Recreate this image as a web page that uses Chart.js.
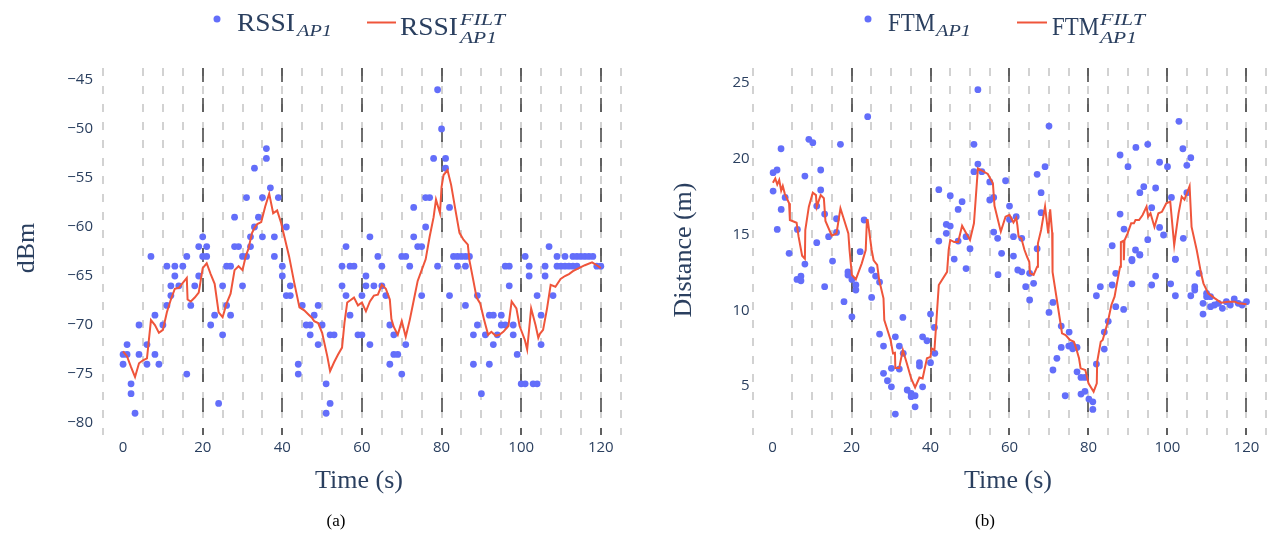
<!DOCTYPE html>
<html><head><meta charset="utf-8">
<script src="https://cdn.jsdelivr.net/npm/chart.js@4.4.0/dist/chart.umd.min.js"></script>
<style>
html,body{margin:0;padding:0;background:#fff;}
body{width:1273px;height:533px;overflow:hidden;position:relative;}
canvas{position:absolute;top:0;}
#c1{left:0;}
#c2{left:640px;}
svg{position:absolute;left:0;top:0;pointer-events:none;}
</style></head>
<body>
<canvas id="c1" width="640" height="533"></canvas>
<canvas id="c2" width="633" height="533"></canvas>
<svg width="1273" height="533" font-family="'Liberation Serif', serif">
  <!-- legend (a) -->
  <circle cx="217" cy="19" r="3.5" fill="#636efa"/>
  <text x="237" y="30.5" font-size="25" fill="#2a3f5f" textLength="58" lengthAdjust="spacingAndGlyphs">RSSI</text>
  <text x="297" y="35.5" font-size="17" font-style="italic" fill="#2a3f5f" textLength="35" lengthAdjust="spacingAndGlyphs">AP1</text>
  <line x1="367" y1="22.5" x2="396" y2="22.5" stroke="#ef553b" stroke-width="2"/>
  <text x="400" y="35" font-size="25" fill="#2a3f5f" textLength="58" lengthAdjust="spacingAndGlyphs">RSSI</text>
  <text x="460" y="25" font-size="17" font-style="italic" fill="#2a3f5f" textLength="45" lengthAdjust="spacingAndGlyphs">FILT</text>
  <text x="460" y="42.5" font-size="17" font-style="italic" fill="#2a3f5f" textLength="37" lengthAdjust="spacingAndGlyphs">AP1</text>
  <!-- legend (b) -->
  <circle cx="868" cy="19" r="3.5" fill="#636efa"/>
  <text x="888" y="30.5" font-size="25" fill="#2a3f5f" textLength="47" lengthAdjust="spacingAndGlyphs">FTM</text>
  <text x="936" y="35.5" font-size="17" font-style="italic" fill="#2a3f5f" textLength="35" lengthAdjust="spacingAndGlyphs">AP1</text>
  <line x1="1017" y1="22.5" x2="1047" y2="22.5" stroke="#ef553b" stroke-width="2"/>
  <text x="1052" y="35" font-size="25" fill="#2a3f5f" textLength="47" lengthAdjust="spacingAndGlyphs">FTM</text>
  <text x="1100" y="25" font-size="17" font-style="italic" fill="#2a3f5f" textLength="45" lengthAdjust="spacingAndGlyphs">FILT</text>
  <text x="1100" y="42.5" font-size="17" font-style="italic" fill="#2a3f5f" textLength="37" lengthAdjust="spacingAndGlyphs">AP1</text>
  <!-- axis titles -->
  <text x="359" y="488" font-size="26" fill="#2a3f5f" text-anchor="middle">Time (s)</text>
  <text x="1008" y="488" font-size="26" fill="#2a3f5f" text-anchor="middle">Time (s)</text>
  <text transform="translate(34,248) rotate(-90)" font-size="26" fill="#2a3f5f" text-anchor="middle">dBm</text>
  <text transform="translate(691,250) rotate(-90)" font-size="26" fill="#2a3f5f" text-anchor="middle">Distance (m)</text>
  <text x="336" y="526" font-size="17" fill="#000" text-anchor="middle">(a)</text>
  <text x="985" y="526" font-size="17" fill="#000" text-anchor="middle">(b)</text>
</svg>
<script>
// ---------------- data ----------------
const xTicks = [0, 20, 40, 60, 80, 100, 120];
const gridTimes = [-5,5,10,15,20,25,30,35,40,45,50,55,60,65,70,75,80,85,90,95,100,105,110,115,120,125];
const markTimes = [20, 40, 60, 80, 100, 120];
const rssiTicks = [-80, -75, -70, -65, -60, -55, -50, -45];
const ftmTicks = [5, 10, 15, 20, 25];

// RSSI raw samples [time s, dBm]
const rssiPoints = [
[0,-73],[0,-74],[1,-73],[1,-72],[2,-76],[2,-77],[3,-79],[4,-70],[4,-73],[6,-72],[6,-74],[7,-63],[8,-69],[8,-73],[9,-74],[10,-70],
[11,-64],[11,-68],[12,-66],[12,-67],[13,-64],[13,-65],[14,-66],[15,-64],[16,-63],[16,-75],[17,-68],[18,-66],[19,-65],[19,-62],[20,-63],[20,-61],
[21,-63],[21,-62],[22,-70],[23,-69],[24,-78],[25,-66],[25,-71],[26,-64],[26,-68],[27,-64],[27,-69],[28,-59],[28,-62],[29,-62],[30,-63],[30,-66],
[31,-63],[31,-57],[32,-61],[32,-62],[33,-54],[33,-60],[34,-59],[35,-57],[35,-61],[36,-53],[36,-52],[37,-56],[38,-61],[38,-63],[39,-57],[40,-64],[40,-65],
[41,-60],[41,-67],[42,-66],[42,-67],[44,-74],[44,-75],[45,-68],[46,-70],[47,-70],[47,-71],[48,-69],[49,-68],[49,-72],[50,-70],
[51,-76],[51,-79],[52,-78],[52,-71],[53,-71],[55,-64],[55,-66],[56,-67],[56,-62],[57,-64],[57,-69],[58,-64],[59,-71],[60,-71],[60,-67],
[61,-65],[61,-66],[62,-72],[62,-61],[63,-66],[64,-63],[65,-64],[65,-66],[66,-67],[67,-70],[67,-74],[68,-71],[68,-73],[69,-73],[70,-75],[70,-63],
[71,-63],[71,-72],[72,-64],[73,-61],[73,-58],[74,-62],[75,-62],[75,-67],[76,-60],[76,-57],[77,-57],[78,-53],[79,-46],[79,-64],[80,-50],
[81,-53],[81,-54],[82,-58],[82,-67],[83,-63],[84,-63],[84,-64],[85,-63],[86,-63],[86,-64],[86,-68],[87,-63],[88,-71],[88,-74],[89,-67],[89,-70],[90,-77],
[91,-71],[92,-69],[92,-74],[93,-69],[93,-72],[94,-71],[95,-69],[95,-70],[96,-70],[96,-64],[97,-64],[97,-66],[98,-70],[98,-71],[99,-73],[100,-76],
[101,-76],[101,-63],[102,-64],[102,-65],[103,-76],[104,-76],[104,-67],[105,-69],[105,-72],[106,-64],[106,-65],[107,-62],[108,-67],[109,-63],[109,-64],[110,-64],
[111,-63],[111,-64],[112,-64],[113,-63],[113,-64],[114,-63],[114,-64],[115,-63],[116,-63],[117,-63],[118,-63],[119,-64],[120,-64]
];

// RSSI filtered [time s, dBm]
const rssiFilt = [
[0,-72.7],[1,-73.2],[2,-74.3],[3,-75.3],[4,-73.9],[5,-73.6],[6,-73.4],[7,-69.5],[8,-70.0],[9,-70.8],[10,-70.5],[11,-68.7],[12,-67.4],[13,-66.3],[14,-66.2],
[15,-65.7],[16,-65.2],[16.2,-67.4],[17,-67.6],[18,-67.2],[19,-66.7],[20,-64.2],[21,-63.7],[22,-64.8],[23,-65.8],[24,-68.7],[25,-69.2],[26,-67.8],[27,-66.8],
[28,-64.4],[29,-64.0],[30,-64.4],[30.8,-63.0],[31.5,-62.2],[32.4,-60.6],[33,-60.1],[33.7,-59.7],[34.7,-59.5],[35.7,-57.9],[36.7,-56.6],[37.7,-58.6],[38.7,-58.3],
[39.7,-59.6],[40.7,-61.3],[41.7,-63.0],[43,-65.7],[44.3,-68.2],[45.5,-68.5],[46.5,-68.9],[47.5,-69.3],[48,-69.6],[49,-69.8],[50,-70.8],[51.3,-73.2],[52,-74.7],
[53,-73.8],[54,-73.0],[55,-72.3],[55.6,-69.8],[56.3,-67.7],[57,-67.5],[58,-67.2],[59,-68.0],[60,-67.7],[61,-68.6],[62,-67.6],[63,-67.0],[64,-66.9],[65,-65.9],
[66,-66.3],[67,-67.4],[67.4,-69.4],[68,-70.2],[69,-71.0],[70,-69.6],[71,-71.2],[72,-69.5],[73,-67.5],[74,-65.5],[75,-64.4],[76,-63.3],[77,-61.0],[78,-59.0],
[78.6,-57.2],[79.6,-58.6],[80,-55.9],[80.5,-54.7],[81.5,-54.2],[82.4,-55.7],[83.5,-58.3],[84.5,-60.6],[85.5,-61.3],[86.6,-61.8],[87,-63.4],[88,-65.5],
[88.8,-67.2],[89.7,-67.8],[90.7,-69.5],[91.7,-71.0],[92.5,-70.7],[93.6,-71.1],[94.5,-71.0],[95.5,-70.7],[96.8,-70.1],[97.6,-67.6],[98.8,-68.3],[99.6,-70.1],
[100.9,-71.5],[101.5,-72.5],[102.5,-68.3],[103.6,-70.0],[104.3,-71.3],[104.7,-70.9],[105.5,-70.5],[106.5,-68.3],[107.4,-65.9],[108.6,-66.1],[109.9,-65.3],
[111,-65.0],[112,-64.8],[113,-64.5],[114.5,-64.2],[116,-63.9],[117.8,-63.6],[119,-63.9],[120,-64.2]
];

// FTM raw samples [time s, distance m]
const ftmPoints = [
[0.15,19.08],[1.15,19.26],[0.15,17.87],[2.16,20.66],[3.2,17.45],[2.2,16.66],[1.2,15.34],[4.2,13.76],[6.3,15.34],[8.2,18.86],[9.2,21.28],[10.2,21.06],
[12.2,19.26],[12.2,17.94],[11.2,16.88],[13.2,16.35],[11.2,14.46],[14.2,14.86],[16.2,16.04],[16.2,15.14],[17.2,20.95],[24.1,22.78],[23.2,15.96],[22.2,13.87],
[8.2,13.05],[7.2,12.26],[6.2,12.04],[7.2,11.95],[13.2,11.56],[15.2,13.25],[18.1,10.57],[19.1,12.54],[19.1,12.33],[20.1,12.04],[20.1,9.57],[21.1,11.67],[21.1,11.34],
[25.1,12.66],[26.1,12.26],[27.1,11.86],[25.1,10.85],[27.1,8.43],[28.1,7.64],[31.1,8.25],[32.1,7.64],[33.0,9.53],[33.1,7.16],[30.1,6.17],[32.1,6.12],
[28.1,5.84],[29.1,5.35],[30.1,4.95],[31.1,3.15],[34.1,4.74],[35.1,4.52],[35.1,4.3],[36.1,4.36],[36.1,3.63],[37.2,6.54],[37.2,6.32],[38,4.95],[38,8.25],
[39.1,7.99],[40,9.75],[41,8.87],[41.1,7.16],[40,6.54],[42.1,17.96],[45,17.56],[48,17.17],[47,16.66],[44,15.67],[45,15.56],[44,15.08],[42.1,14.57],[47,14.57],
[49,14.86],[50,14.06],[46,13.38],[49,12.75],[52,24.56],[51,20.95],[52,19.65],[51,19.15],[53,19.15],[55,18.47],[56,17.45],[55,17.28],[59,18.55],[60,16.88],
[56,15.16],[57,14.75],[60,16.0],[61,14.86],[61.7,16.18],[58,13.76],[61,13.58],[57.1,12.35],[62.1,12.66],[63.1,12.54],[63.1,14.75],[64.1,11.56],[65.1,12.44],
[65.1,10.68],[66.1,11.78],[70,22.16],[69,19.48],[67,18.97],[68,17.76],[68,16.44],[67,14.06],[70,9.86],[71,10.52],[71,6.06],[72,6.83],[73.1,7.55],[73.1,8.96],
[74.1,4.36],[75.1,8.56],[75,7.64],[75.9,7.71],[76,7.46],[77.1,7.55],[77.1,5.94],[78.1,5.57],[79.1,5.57],[78.1,4.47],[79.1,4.65],[80.1,4.14],[81.1,3.96],[81.1,3.46],
[82,6.45],[82,10.96],[83,11.56],[84,8.56],[84,7.44],[85,9.27],[86,11.67],[86.9,12.44],[86.9,10.24],[88.9,10.06],[91,13.27],[91,11.75],[93,13.65],[96,11.67],
[97,12.26],[100.8,11.75],[102,13.36],[102,10.96],[105.9,10.96],[106.9,11.56],[106.9,11.34],[108,12.44],[109,10.46],[109,9.75],[109.9,11.12],[109.9,10.9],
[110.9,10.9],[110.9,10.24],[111.9,10.35],[112.9,10.46],[113.9,10.13],[114.9,10.57],[115.9,10.35],[116.9,10.75],[117.9,10.46],[118.9,10.35],[120,10.57],
[88,20.25],[90,19.48],[92,20.75],[95,20.95],[98,19.77],[100,19.48],[102.9,22.47],[103.9,20.66],[105.9,20.07],[104.9,19.57],[94,18.16],[97,18.07],[93,17.76],
[101,17.45],[104.9,17.76],[96,16.77],[88,16.35],[98,15.47],[99,14.97],[89,15.36],[95,14.66],[104,14.75],[86,14.26],[91.9,13.98],[93,13.67],[91,13.36],[102,13.38]
];

// FTM filtered [time s, distance m]
const ftmFilt = [
[0.1,18.42],[0.7,18.7],[1.2,18.3],[1.7,18.6],[2.2,17.9],[2.6,18.2],[3.1,17.7],[4.2,17.06],[4.4,15.96],[6.1,15.78],[6.6,14.86],[7.5,13.6],[7.7,13.54],[8.2,13.4],
[8.3,15.3],[9.2,16.84],[10.2,17.76],[11,17.6],[11.2,16.84],[12.2,17.6],[13,17.4],[13.4,15.9],[15,14.92],[16.2,15.07],[17.2,16.73],[19.2,15.07],[19.5,13.98],
[20.1,12.33],[21.1,12.04],[22.6,13.1],[23.6,13.98],[23.9,15.96],[24.1,15.96],[25.1,13.98],[25.6,13.3],[26.5,12.99],[27,12.0],[28.1,10.79],[28.3,9.36],
[29.9,8.04],[30.5,7.16],[31,7.2],[31.1,6.19],[32.1,6.19],[32.3,6.5],[33,7.38],[34,6.5],[35.1,5.5],[36.1,4.91],[37.2,5.56],[38,5.5],[39.1,6.83],[40,6.93],
[40.3,7.49],[41,7.38],[42.1,11.67],[44.2,12.54],[44.6,13.98],[45,14.64],[46,14.5],[47,14.5],[48,15.58],[49,15.1],[50,14.64],[51,15.74],[52,19.37],[54.5,19.0],
[55.8,18.38],[56.2,16.9],[57.8,15.19],[59,16.18],[60,16.3],[61,15.8],[61.7,16.1],[62,15.6],[62.3,14.86],[63,14.75],[63.8,13.98],[64.5,13.5],[65,13.2],
[65.2,12.44],[66.1,12.33],[67,12.88],[67.2,14.42],[68,15.3],[69,16.84],[69.8,15.07],[70.3,16.66],[70.8,15.13],[70.9,12.54],[72,10.68],[73.3,8.48],[74.2,8.37],
[75.3,8.04],[76.3,7.93],[77,7.38],[77.6,6.83],[78,6.17],[79.2,6.06],[80,5.18],[81.3,4.63],[82.1,5.18],[82.2,6.6],[83.1,7.93],[83.6,8.04],[84.9,9.25],
[85.8,10.35],[86.6,10.9],[87.2,11.78],[88,12.88],[88.2,14.5],[88.9,14.6],[88.95,13.3],[89.1,14.6],[89.9,15.08],[90.8,15.74],[91.5,15.74],[91.9,15.96],
[92.8,15.96],[93.7,16.29],[94.7,16.84],[95.1,16.18],[95.7,16.4],[96.7,15.5],[97.7,16.4],[98.6,16.5],[99.7,17.06],[100.7,17.17],[101.7,14.3],[102.8,16.4],
[103.6,17.5],[104.3,17.3],[105.6,18.2],[106.1,15.5],[107.4,13.98],[108.5,12.44],[109.1,11.78],[110.3,11.12],[112,10.79],[113.6,10.5],[115.4,10.57],
[117,10.57],[118,10.46],[120,10.4]
];

// ---------------- rendering ----------------
const toXY = arr => arr.map(p => ({x: p[0], y: p[1]}));
const TICK_COLOR = '#2a3f5f';
const tickFont = {family: "'Open Sans', sans-serif", size: 15};
const fmt = v => String(v).replace('-', '\u2212');

const vGrid = {
  id: 'vgrid',
  beforeDatasetsDraw(chart) {
    const {ctx, chartArea: a, scales: {x}} = chart;
    ctx.save();
    ctx.lineWidth = 1.5;
    ctx.strokeStyle = '#c4c4c4';
    ctx.setLineDash([8, 10]);
    for (const v of gridTimes) {
      const px = Math.round(x.getPixelForValue(v));
      if (px < a.left - 1 || px > a.right + 1) continue;
      ctx.beginPath(); ctx.moveTo(px, a.top); ctx.lineTo(px, a.bottom); ctx.stroke();
    }
    ctx.strokeStyle = 'rgba(30,30,30,0.85)';
    ctx.setLineDash([14, 16]);
    for (const v of markTimes) {
      const px = Math.round(x.getPixelForValue(v));
      ctx.beginPath(); ctx.moveTo(px, a.top); ctx.lineTo(px, a.bottom); ctx.stroke();
    }
    ctx.restore();
  }
};

function makeChart(id, pts, filt, yMin, yMax, yTickVals, xMin, xMax, axisW, padRight, yPad) {
  return new Chart(document.getElementById(id), {
    type: 'scatter',
    data: {datasets: [
      {type: 'line', data: toXY(filt), borderColor: '#ef553b', borderWidth: 2, pointRadius: 0, tension: 0, fill: false, order: 0},
      {type: 'scatter', data: toXY(pts), backgroundColor: '#636efa', pointRadius: 3.4, borderWidth: 0, order: 1}
    ]},
    options: {
      responsive: false, animation: false, devicePixelRatio: 1,
      layout: {padding: {left: 0, right: padRight, top: 68, bottom: 0}},
      plugins: {legend: {display: false}, tooltip: {enabled: false}},
      scales: {
        x: {type: 'linear', min: xMin, max: xMax,
            afterBuildTicks: s => { s.ticks = xTicks.map(v => ({value: v})); },
            afterFit: s => { s.height = 98; },
            grid: {display: false, drawTicks: false}, border: {display: false},
            ticks: {font: tickFont, color: TICK_COLOR, padding: 4, maxRotation: 0, autoSkip: false}},
        y: {type: 'linear', min: yMin, max: yMax,
            afterBuildTicks: s => { s.ticks = yTickVals.map(v => ({value: v})); },
            afterFit: s => { s.width = axisW; },
            grid: {display: false, drawTicks: false}, border: {display: false},
            ticks: {font: tickFont, color: TICK_COLOR, padding: yPad, autoSkip: false, callback: fmt}}
      }
    },
    plugins: [vGrid]
  });
}

makeChart('c1', rssiPoints, rssiFilt, -81.22, -43.78, rssiTicks, -5.8, 125.7, 100, 16.5, 7);
makeChart('c2', ftmPoints, ftmFilt, 1.77, 25.99, ftmTicks, -5.8, 125.7, 109.6, 0, 0);
</script>
</body></html>
